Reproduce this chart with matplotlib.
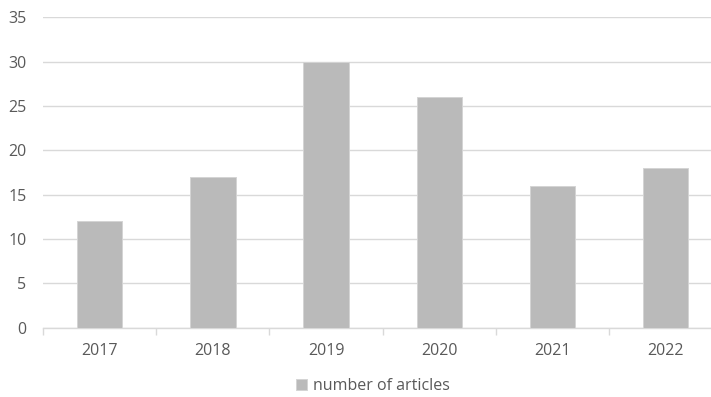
import matplotlib
matplotlib.use("Agg")
import matplotlib.pyplot as plt
import numpy as np

years = ["2017", "2018", "2019", "2020", "2021", "2022"]
articles = [12, 17, 30, 26, 16, 18]
y_ticks = [0, 5, 10, 15, 20, 25, 30, 35]

plt.rcParams['font.family'] = ['Open Sans', 'DejaVu Sans']
txt = '#595959'
W, H = 711, 397

fig = plt.figure(figsize=(W/100, H/100), dpi=100)
left, right, y0, y35 = 43.2, 722.0, 327.5, 17.3
ax = fig.add_axes([left/W, 1 - y0/H, (right-left)/W, (y0-y35)/H])

x = np.arange(len(years))
ax.bar(x, articles, width=0.40, color='#bababa', edgecolor='#d4d4d4', linewidth=0.7,
       label='number of articles', zorder=3)
ax.set_xlim(-0.5, len(years) - 0.5)
ax.set_ylim(0, 35)
ax.set_yticks(y_ticks)
ax.set_yticklabels([str(v) for v in y_ticks], color=txt, fontsize=11.5)
ax.set_xticks(x)
ax.set_xticklabels(years, color=txt, fontsize=11.5)
ax.tick_params(axis='y', length=0, pad=12)
ax.tick_params(axis='x', length=0, pad=11.5)
ax.set_xticks(np.arange(-0.5, len(years), 1), minor=True)
ax.tick_params(axis='x', which='minor', length=5, color='#d9d9d9', width=1)
ax.grid(axis='y', color='#d9d9d9', linewidth=1, zorder=0)
for s in ['top', 'right', 'left']:
    ax.spines[s].set_visible(False)
ax.spines['bottom'].set_color('#d9d9d9')
ax.spines['bottom'].set_linewidth(1)

leg = fig.legend(loc='center', bbox_to_anchor=(373/W, 1 - 386/H), frameon=False,
                 fontsize=11.5, handlelength=0.7, handleheight=0.7, handletextpad=0.35)
for t in leg.get_texts():
    t.set_color(txt)

fig.savefig('out.png', dpi=100)
